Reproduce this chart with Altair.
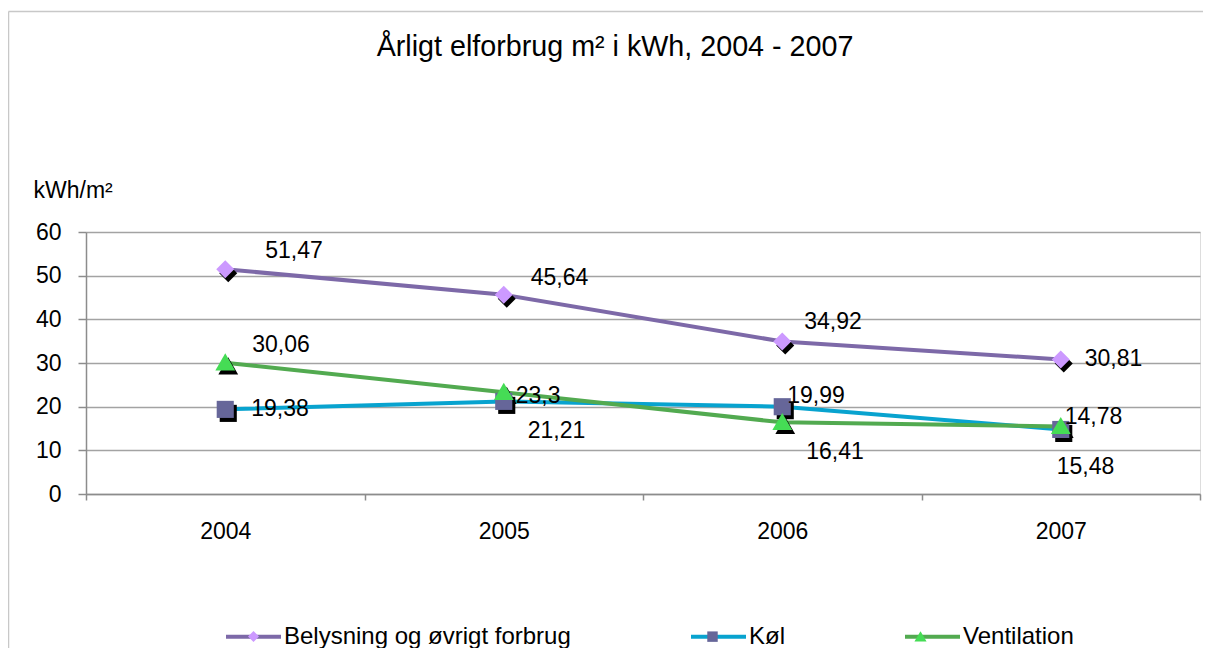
import altair as alt
import pandas as pd

FONT = "Liberation Sans"

# ---- data ----
years = ["2004", "2005", "2006", "2007"]
series_names = ["Belysning og øvrigt forbrug", "Køl", "Ventilation"]
belysning = [51.47, 45.64, 34.92, 30.81]
kol = [19.38, 21.21, 19.99, 14.78]
ventilation = [30.06, 23.3, 16.41, 15.48]
y_ticks = [0, 10, 20, 30, 40, 50, 60]

title_text = "Årligt elforbrug m² i kWh, 2004 - 2007"
y_title = "kWh/m²"

# ---- styles ----
line_colors = ["#7d69a8", "#08a3cf", "#52aa50"]
marker_colors = ["#cc99ff", "#666699", "#45dc55"]
marker_paths = [
    "M0,-0.2L0.2,0L0,0.2L-0.2,0Z",
    "M-0.19,-0.19L0.19,-0.19L0.19,0.19L-0.19,0.19Z",
    "M0,-0.21L0.22,0.17L-0.22,0.17Z",
]

rows = []
for name, vals in zip(series_names, [belysning, kol, ventilation]):
    for yr, v in zip(years, vals):
        rows.append({
            "year": yr, "series": name, "series_m": name, "value": v,
            "label": f"{v:g}".replace(".", ","), "key": f"{name}|{yr}",
        })
df = pd.DataFrame(rows)

# label placement (pixel offsets of label's left edge / vertical centre from the point)
label_offsets = {
    (series_names[0], "2004"): (40, -18),
    (series_names[0], "2005"): (27, -17),
    (series_names[0], "2006"): (22, -20),
    (series_names[0], "2007"): (24, 0),
    (series_names[1], "2004"): (26, 0),
    (series_names[1], "2005"): (24, 30),
    (series_names[1], "2006"): (5, -11),
    (series_names[1], "2007"): (4, -12),
    (series_names[2], "2004"): (27, -18),
    (series_names[2], "2005"): (12, 4),
    (series_names[2], "2006"): (24, 30),
    (series_names[2], "2007"): (-4, 41),
}

W, H = 1114, 262
PAD = {"left": 78, "top": 224, "right": 3, "bottom": 154}

AX = "#8c8c8c"
x_enc = alt.X(
    "year:N",
    bandPosition=0.5,
    scale=alt.Scale(type="band", paddingInner=0, paddingOuter=0),
    axis=alt.Axis(
        title=None, labelAngle=0, tickBand="extent", grid=False,
        domainColor=AX, domainWidth=1.5, tickColor=AX, tickWidth=1.5, tickSize=6,
        labelFont=FONT, labelFontSize=23, labelColor="black", labelPadding=20,
    ),
)
y_enc = alt.Y(
    "value:Q",
    scale=alt.Scale(domain=[0, 60], nice=False, zero=True),
    axis=alt.Axis(
        values=y_ticks, title=y_title, titleAngle=0, titleAlign="left",
        titleBaseline="middle", titleX=-53, titleY=-42, titleFont=FONT,
        titleFontSize=23, titleFontWeight="normal", titleColor="black",
        grid=True, gridColor="#a3a3a3", gridWidth=1.5,
        domainColor=AX, domainWidth=1.5, tickColor=AX, tickWidth=1.5, tickSize=8,
        labelFont=FONT, labelFontSize=23, labelColor="black", labelPadding=17,
    ),
)

legend_common = dict(
    orient="none", legendX=138, legendY=375, direction="horizontal", title=None,
    symbolSize=3025, symbolStrokeWidth=4, labelFont=FONT, labelFontSize=24,
    labelColor="black", labelOffset=1, columnPadding=112, padding=0, labelLimit=600,
)

# light-grey chart frame (left and top edges), kept inside the drawing surface
one = pd.DataFrame({"f": [0]})
frame_left = alt.Chart(one).mark_rule(stroke="#c8c8c8", strokeWidth=1.5).encode(
    x=alt.value(-77.5), y=alt.value(-220.5), y2=alt.value(H + PAD["bottom"])
)
frame_top = alt.Chart(one).mark_rule(stroke="#c8c8c8", strokeWidth=1.5).encode(
    x=alt.value(-77.5), x2=alt.value(W + PAD["right"]), y=alt.value(-220.5)
)

lines = alt.Chart(df).mark_line(strokeWidth=4).encode(
    x=x_enc, y=y_enc,
    color=alt.Color(
        "series:N", scale=alt.Scale(range=line_colors),
        legend=alt.Legend(symbolType="stroke", **legend_common),
    ),
)

shadow_layers = []
for name, path in zip(series_names, marker_paths):
    shadow_layers.append(
        alt.Chart(df)
        .transform_filter(alt.FieldEqualPredicate(field="series", equal=name))
        .mark_point(filled=True, color="black", size=8100, opacity=1,
                    xOffset=3, yOffset=4, shape=path)
        .encode(x=x_enc, y=y_enc)
    )

legend_b = alt.Legend(symbolStrokeColor="transparent", labelOpacity=0, **legend_common)
points = alt.Chart(df).mark_point(filled=True, size=8100, opacity=1).encode(
    x=x_enc, y=y_enc,
    fill=alt.Fill("series_m:N", scale=alt.Scale(range=marker_colors), legend=legend_b),
    shape=alt.Shape("series_m:N", scale=alt.Scale(range=marker_paths), legend=legend_b),
)

placements = {}
for (s, yr), off in label_offsets.items():
    placements.setdefault(off, []).append(f"{s}|{yr}")

label_layers = []
for (dx, dy), keys in placements.items():
    label_layers.append(
        alt.Chart(df)
        .transform_filter(alt.FieldOneOfPredicate(field="key", oneOf=keys))
        .mark_text(align="left", baseline="middle", dx=dx, dy=dy,
                   font=FONT, fontSize=23, color="black")
        .encode(x=x_enc, y=y_enc, text="label:N")
    )

chart = alt.layer(frame_left, frame_top, lines, *shadow_layers, points, *label_layers).properties(
    width=W,
    height=H,
    title=alt.TitleParams(
        title_text, font=FONT, fontSize=28.7, fontWeight="normal", color="black",
        anchor="middle", dx=-28, dy=55,
    ),
    padding=PAD,
    autosize=alt.AutoSizeParams(type="none"),
).configure_view(stroke=None).configure(background="white")

chart.save("out.html", embed_options={"renderer": "svg", "actions": False})
